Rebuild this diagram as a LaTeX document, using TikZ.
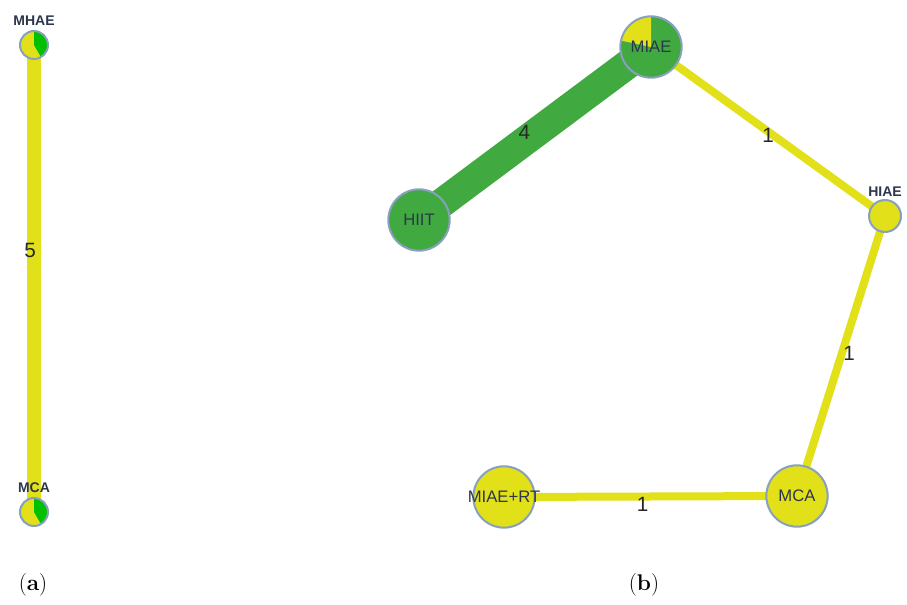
\documentclass[tikz,border=0pt]{standalone}
\usepackage{fontspec}
\setsansfont{Liberation Sans}
\usetikzlibrary{backgrounds}
\definecolor{nmayel}{RGB}{225,224,25}
\definecolor{nmagrn}{RGB}{64,170,64}
\definecolor{nmalime}{RGB}{0,192,0}
\definecolor{nmarim}{RGB}{135,160,192}
\definecolor{nmatxt}{RGB}{45,55,75}
\tikzset{
  trt/.style={circle,draw=nmarim,line width=1.5pt,inner sep=0pt},
  small/.style={trt,minimum size=21pt,fill=nmayel},
  big/.style={trt,minimum size=46pt},
  ylw/.style={big,fill=nmayel},
  grn/.style={big,fill=nmagrn},
  % pie slice inside a node, from 90 deg to #1
  slice/.style 2 args={path picture={
    \fill[#1] (path picture bounding box.center) -- ++(90:40pt)
      arc[start angle=90,end angle=#2,radius=40pt] -- cycle;}},
  tlbl/.style={font=\sffamily\bfseries\fontsize{10.5}{12}\selectfont,text=nmatxt},
  nlbl/.style={font=\sffamily\fontsize{12.5}{14}\selectfont,text=nmatxt},
  elbl/.style={font=\sffamily\fontsize{15.5}{17}\selectfont,text=black!85},
  cmp/.style={line width=6pt,nmayel},
  panelcap/.style={font=\fontsize{17}{19}\selectfont},
}
\begin{document}
\begin{tikzpicture}[x=0.75pt,y=0.75pt]
  \useasboundingbox (0,0) rectangle (907,-605);
  % panel (a)
  \node[small,slice={nmalime}{-60},label={[tlbl]above:MHAE}] (mhae) at (34,-45) {};
  \node[small,slice={nmalime}{-60},label={[tlbl]above:MCA}] (mcaa) at (34,-512) {};
  % panel (b)
  \node[grn,slice={nmayel}{168},label={[nlbl]center:MIAE}] (miae) at (651,-47) {};
  \node[grn,label={[nlbl]center:HIIT}] (hiit) at (419,-220) {};
  \node[small,minimum size=24pt,label={[tlbl,yshift=-2pt]above:HIAE}] (hiae) at (885,-216) {};
  \node[ylw,label={[nlbl]center:MIAE+RT}] (miaert) at (504,-497) {};
  \node[ylw,label={[nlbl]center:MCA}] (mcab) at (797,-496) {};
  \begin{scope}[on background layer]
    \draw[line width=10.5pt,nmayel] (mhae.center) -- node[elbl,pos=0.44,xshift=-3pt] {5} (mcaa.center);
    \draw[line width=22pt,nmagrn] (hiit.center) -- node[elbl,xshift=-8pt,yshift=1pt] {4} (miae.center);
    \draw[cmp] (miae.center) -- node[elbl,yshift=-3pt] {1} (hiae.center);
    \draw[cmp] (hiae.center) -- node[elbl,xshift=6pt,yshift=2pt] {1} (mcab.center);
    \draw[cmp] (miaert.center) -- node[elbl,xshift=-6pt,yshift=-6pt] {1} (mcab.center);
  \end{scope}
  % captions
  \node[panelcap] (capa) at (33,-585) {(\textbf{a})};
  \node[panelcap] (capb) at (644,-585) {(\textbf{b})};
\end{tikzpicture}
\end{document}
